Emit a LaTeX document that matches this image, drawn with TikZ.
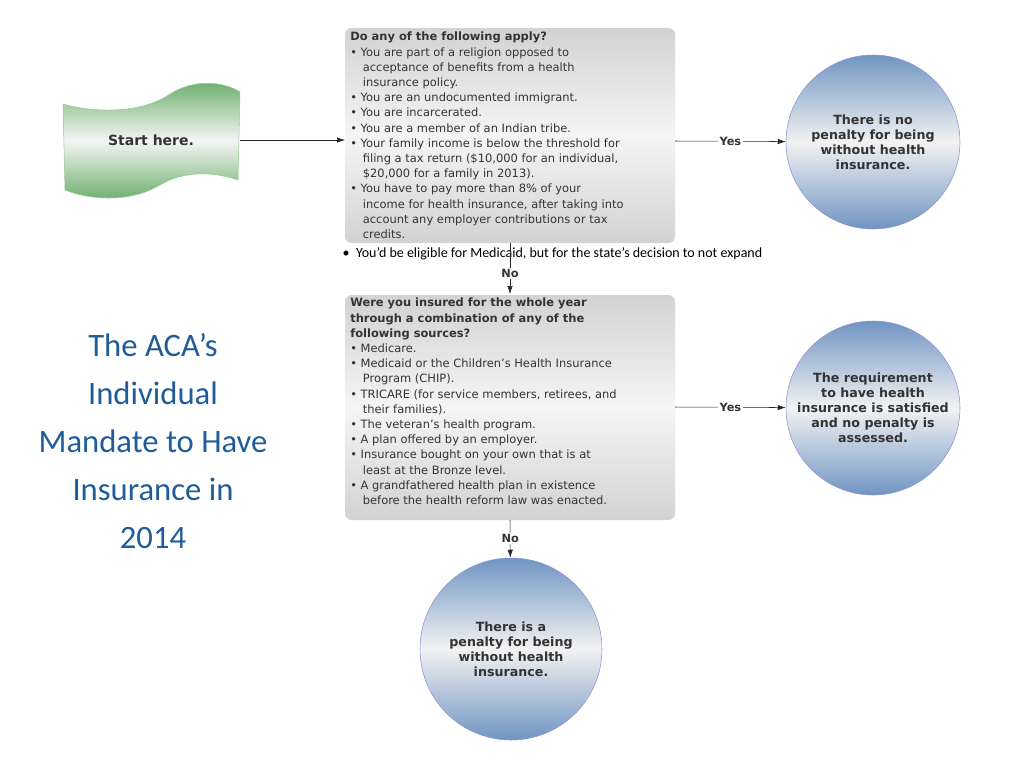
\documentclass[tikz,border=0pt]{standalone}
\usepackage{fontspec}
\setmainfont{DejaVu Sans}
\newfontfamily\carlitofont{Carlito}
\usetikzlibrary{arrows.meta}
\definecolor{titleblue}{HTML}{1F5C99}
\definecolor{txt}{HTML}{333333}
\begin{document}
\begin{tikzpicture}[x=0.75pt,y=-0.75pt,
 box/.style={rounded corners=5pt,top color=gray!35,bottom color=gray!35,middle color=gray!8,draw=none},
 bubble/.style={circle,minimum size=174*0.75pt,inner sep=0pt,draw=blue!45!gray!60,top color=blue!55!cyan!40!gray!80,bottom color=blue!55!cyan!40!gray!80,middle color=gray!10,text=txt,font=\bfseries\fontsize{9.5pt}{11.2pt}\selectfont,align=center},
 arr/.style={draw=gray!30!black,-{Latex[length=6pt,width=4pt]}},
 lab/.style={font=\bfseries\fontsize{8.5pt}{10pt}\selectfont,text=txt,fill=white,inner sep=1pt},
 boxtext/.style={anchor=north west,text=txt,align=left,font=\fontsize{8.6pt}{11.4pt}\selectfont,inner sep=0pt}]
\useasboundingbox (0,0) rectangle (1024,768);
% start shape
\shade[top color=green!45!black!60,bottom color=green!45!black!60,middle color=gray!8,draw=green!50!black!40]
 (63,104) .. controls (90,112) and (140,115) .. (170,94) .. controls (195,78) and (225,82) .. (240,92)
 -- (238,180) .. controls (215,172) and (185,170) .. (160,185) .. controls (130,203) and (90,200) .. (65,190) -- cycle;
\node[font=\bfseries\fontsize{10.5pt}{12pt}\selectfont,text=txt] (start) at (151,140) {Start here.};
\coordinate (startE) at (240,140);
% box 1
\shade[box] (345,28) rectangle (675,243);
\node[boxtext] (q1) at (350,32) {\textbf{Do any of the following apply?}\\
\textbullet\ You are part of a religion opposed to\\
\hspace*{1.1em}acceptance of benefits from a health\\
\hspace*{1.1em}insurance policy.\\
\textbullet\ You are an undocumented immigrant.\\
\textbullet\ You are incarcerated.\\
\textbullet\ You are a member of an Indian tribe.\\
\textbullet\ Your family income is below the threshold for\\
\hspace*{1.1em}filing a tax return (\$10,000 for an individual,\\
\hspace*{1.1em}\$20,000 for a family in 2013).\\
\textbullet\ You have to pay more than 8\% of your\\
\hspace*{1.1em}income for health insurance, after taking into\\
\hspace*{1.1em}account any employer contributions or tax\\
\hspace*{1.1em}credits.};
\coordinate (b1W) at (345,140);
\coordinate (b1E) at (675,141);
\coordinate (b1S) at (510,243);
\node[bubble] (c1) at (873,142) {There is no\\penalty for being\\without health\\insurance.};
\draw[arr] (startE) -- (b1W);
\draw[arr] (b1E) -- node[lab,pos=0.5] {Yes} (c1);
\node[font=\carlitofont\fontsize{10.5pt}{12pt}\selectfont,anchor=west] (med) at (338,254) {\textbullet\ \ You’d be eligible for Medicaid, but for the state’s decision to not expand};
% box 2
\shade[box] (345,295) rectangle (675,520);
\node[boxtext] (q2) at (350,298) {\textbf{Were you insured for the whole year}\\
\textbf{through a combination of any of the}\\
\textbf{following sources?}\\
\textbullet\ Medicare.\\
\textbullet\ Medicaid or the Children's Health Insurance\\
\hspace*{1.1em}Program (CHIP).\\
\textbullet\ TRICARE (for service members, retirees, and\\
\hspace*{1.1em}their families).\\
\textbullet\ The veteran's health program.\\
\textbullet\ A plan offered by an employer.\\
\textbullet\ Insurance bought on your own that is at\\
\hspace*{1.1em}least at the Bronze level.\\
\textbullet\ A grandfathered health plan in existence\\
\hspace*{1.1em}before the health reform law was enacted.};
\coordinate (b2N) at (510,294);
\coordinate (b2E) at (675,407);
\coordinate (b2S) at (510,520);
\draw[arr] (b1S) -- node[lab,pos=0.6] {No} (b2N);
\node[bubble] (c2) at (873,408) {The requirement\\to have health\\insurance is satisfied\\and no penalty is\\assessed.};
\draw[arr] (b2E) -- node[lab] {Yes} (c2);
\node[bubble,minimum size=182*0.75pt] (c3) at (511,649) {There is a\\penalty for being\\without health\\insurance.};
\draw[arr] (b2S) -- node[lab] {No} (c3);
% title
\node[font=\carlitofont\fontsize{24.5pt}{36pt}\selectfont,text=titleblue,align=center] (title) at (153,441)
 {The ACA’s\\Individual\\Mandate to Have\\Insurance in\\2014};
\end{tikzpicture}
\end{document}
